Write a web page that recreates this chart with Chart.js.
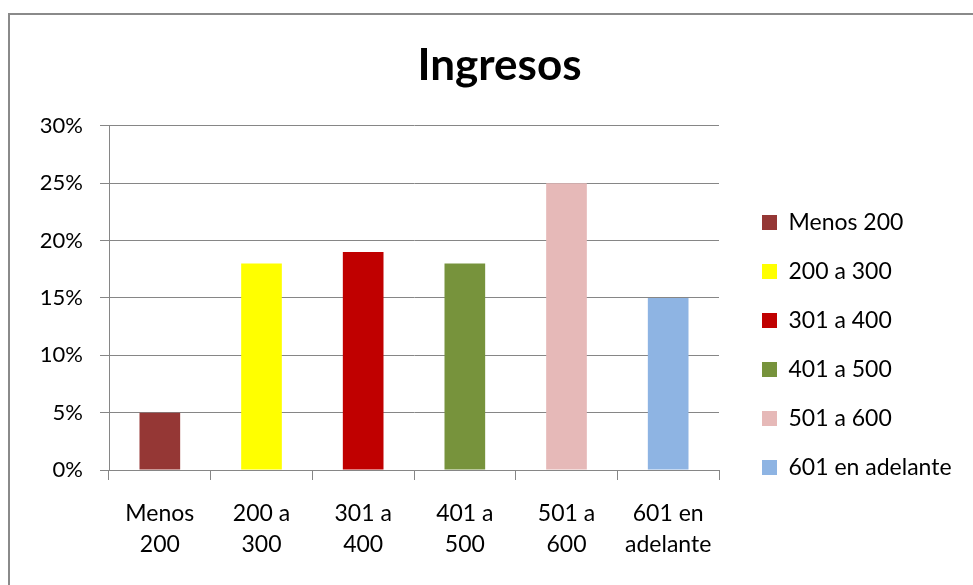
<!DOCTYPE html>
<html><head><meta charset="utf-8">
<script src="https://cdn.jsdelivr.net/npm/chart.js@4"></script>
<style>
html,body{margin:0;padding:0;background:#fff;overflow:hidden;width:973px;height:585px;}
#frame{position:absolute;left:8px;top:13px;width:1100px;height:700px;border:2px solid #8a8a8a;box-sizing:border-box;}
#wrap{position:absolute;left:0;top:0;width:973px;height:585px;}
</style></head><body>
<div id="frame"></div>
<div id="wrap"><canvas id="c"></canvas></div>
<script>
const categories = [['Menos','200'],['200 a','300'],['301 a','400'],['401 a','500'],['501 a','600'],['601 en','adelante']];
const legendLabels = ['Menos 200','200 a 300','301 a 400','401 a 500','501 a 600','601 en adelante'];
const values = [5, 18, 19, 18, 25, 15];
const colors = ['#953735','#FFFF00','#C00000','#77933C','#E6B9B8','#8EB4E3'];
const yMin = 0, yMax = 30, yStep = 5;

const FONT = 'Lato';
const GRID = '#868686';

const legendPatch = {
  id: 'legendPatch',
  beforeLayout(chart) {
    const lg = chart.legend;
    if (lg && !lg._patched) {
      const f = lg.fit;
      lg.fit = function() { f.call(this); this.width = 237; };
      lg._patched = true;
    }
  }
};

new Chart(document.getElementById('c'), {
  type: 'bar',
  data: {
    labels: categories,
    datasets: [{
      data: values,
      backgroundColor: colors,
      borderWidth: 0,
      barPercentage: 0.4,
      categoryPercentage: 1.0
    }]
  },
  plugins: [legendPatch],
  options: {
    responsive: true,
    maintainAspectRatio: false,
    animation: false,
    layout: { padding: { left: 26, right: 0, top: 0, bottom: 0 } },
    plugins: {
      title: {
        display: true,
        text: 'Ingresos',
        color: '#000',
        font: { family: FONT, size: 44, weight: 'bold', lineHeight: 1.2 },
        padding: { top: 39, bottom: 34 }
      },
      legend: {
        position: 'right',
        align: 'start',
        title: { display: true, text: '', font: { size: 12, lineHeight: 1.2 }, padding: { top: 170.6, bottom: 0 } },
        labels: {
          color: '#000',
          font: { family: FONT, size: 23 },
          boxWidth: 15,
          boxHeight: 15,
          padding: 26,
          generateLabels(chart) {
            return legendLabels.map((t, i) => ({
              text: t, fillStyle: colors[i], strokeStyle: colors[i], fontColor: '#000', lineWidth: 0, hidden: false, index: i, datasetIndex: 0
            }));
          }
        },
        onClick: () => {}
      },
      tooltip: { enabled: false }
    },
    scales: {
      x: {
        offset: true,
        grid: { display: true, drawOnChartArea: false, drawTicks: true, tickLength: 10, offset: true, color: GRID, lineWidth: 1 },
        border: { display: true, color: GRID, width: 1 },
        ticks: { color: '#000', font: { family: FONT, size: 23, lineHeight: 1.35 }, padding: 18, maxRotation: 0, autoSkip: false },
        afterFit(s) { s.height = 115; }
      },
      y: {
        min: yMin, max: yMax,
        ticks: { stepSize: yStep, color: '#000', font: { family: FONT, size: 22 }, padding: 17, callback: v => v + '%' },
        grid: { color: GRID, lineWidth: 1, tickLength: 9, drawTicks: true },
        border: { display: true, color: GRID, width: 1 },
        afterFit(s) { s.width = 83; }
      },
      spacer: {
        type: 'linear',
        position: 'right',
        display: true,
        grid: { display: false },
        border: { display: false },
        ticks: { display: false },
        afterFit(s) { s.width = 17; }
      }
    }
  }
});
</script>
</body></html>
